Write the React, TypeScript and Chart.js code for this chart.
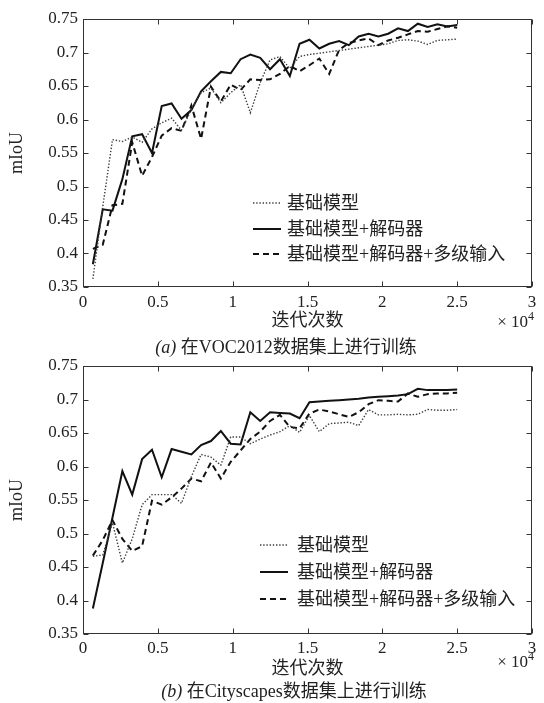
import React, { useEffect, useRef } from 'react';
import { Chart, registerables } from 'chart.js';

Chart.register(...registerables);

// ---- data ----
const iterations = [
  0.066, 0.132, 0.197, 0.263, 0.329, 0.395, 0.461, 0.526, 0.592, 0.658,
  0.724, 0.789, 0.855, 0.921, 0.987, 1.053, 1.118, 1.184, 1.25, 1.316,
  1.382, 1.447, 1.513, 1.579, 1.645, 1.711, 1.776, 1.842, 1.908, 1.974,
  2.039, 2.105, 2.171, 2.237, 2.303, 2.368, 2.434, 2.5,
];

const seriesNames = ['基础模型', '基础模型+解码器', '基础模型+解码器+多级输入'];

const vocBase = [
  0.362, 0.47, 0.57, 0.567, 0.574, 0.566, 0.586, 0.595, 0.602, 0.584,
  0.615, 0.64, 0.647, 0.625, 0.64, 0.652, 0.61, 0.655, 0.689, 0.694,
  0.676, 0.694, 0.697, 0.699, 0.701, 0.703, 0.705, 0.707, 0.709, 0.711,
  0.713, 0.718, 0.719, 0.717, 0.712, 0.718, 0.719, 0.72,
];
const vocDecoder = [
  0.384, 0.466, 0.464, 0.511, 0.575, 0.578, 0.55, 0.62, 0.624, 0.601,
  0.614, 0.642, 0.657, 0.671, 0.669, 0.69, 0.697, 0.692, 0.675, 0.69,
  0.665, 0.713, 0.719, 0.706, 0.713, 0.717, 0.711, 0.724, 0.728, 0.724,
  0.728, 0.736, 0.732, 0.743, 0.738, 0.742, 0.739, 0.741,
];
const vocMulti = [
  0.407, 0.413, 0.472, 0.474, 0.566, 0.516, 0.544, 0.576, 0.587, 0.583,
  0.621, 0.571, 0.649, 0.627, 0.652, 0.644, 0.66, 0.659, 0.66, 0.668,
  0.68, 0.672, 0.681, 0.691, 0.668, 0.704, 0.714, 0.718, 0.721, 0.711,
  0.718, 0.722, 0.727, 0.732, 0.731, 0.735, 0.739, 0.737,
];

const cityBase = [
  0.466, 0.468, 0.516, 0.456, 0.492, 0.543, 0.558, 0.558, 0.558, 0.545,
  0.585, 0.618, 0.614, 0.602, 0.644, 0.644, 0.634, 0.641, 0.647, 0.652,
  0.661, 0.651, 0.676, 0.652, 0.664, 0.665, 0.666, 0.661, 0.685, 0.677,
  0.677, 0.678, 0.677, 0.678, 0.685, 0.684, 0.684, 0.685,
];
const cityDecoder = [
  0.388, 0.456, 0.524, 0.593, 0.558, 0.611, 0.625, 0.584, 0.626, 0.622,
  0.618, 0.632, 0.638, 0.653, 0.634, 0.633, 0.681, 0.668, 0.681, 0.68,
  0.679, 0.672, 0.696, 0.697, 0.698, 0.699, 0.7, 0.701, 0.703, 0.704,
  0.705, 0.706, 0.708, 0.716, 0.714, 0.714, 0.714, 0.715,
];
const cityMulti = [
  0.467, 0.49, 0.52, 0.492, 0.474, 0.481, 0.549, 0.543, 0.554, 0.567,
  0.582, 0.578, 0.606, 0.582, 0.607, 0.624, 0.641, 0.652, 0.668, 0.677,
  0.659, 0.657, 0.679, 0.685, 0.682, 0.678, 0.674, 0.681, 0.693, 0.699,
  0.698, 0.697, 0.709, 0.704, 0.708, 0.709, 0.709, 0.71,
];

const xTickValues = [0, 0.5, 1, 1.5, 2, 2.5, 3];
const xTickLabels = ['0', '0.5', '1', '1.5', '2', '2.5', '3'];
const yTickValues = [0.35, 0.4, 0.45, 0.5, 0.55, 0.6, 0.65, 0.7, 0.75];
const yTickLabels = ['0.35', '0.4', '0.45', '0.5', '0.55', '0.6', '0.65', '0.7', '0.75'];

const xTitle = '迭代次数';
const yTitle = 'mIoU';
const xScaleNote = '× 10';
const xScaleExp = '4';
const captionA = { tag: '(a)', text: ' 在VOC2012数据集上进行训练' };
const captionB = { tag: '(b)', text: ' 在Cityscapes数据集上进行训练' };

// ---- styling ----
const FONT = '"Liberation Serif", "Noto Sans CJK SC", serif';
const TEXT = '#222';
const W = 544;

const lineStyles = [
  { color: '#3c3c3c', width: 1.4, dash: [1.4, 1.8] },
  { color: '#111', width: 2, dash: [] as number[] },
  { color: '#111', width: 2, dash: [6, 4] },
];

type Layout = {
  top: number;
  height: number;
  plotTop: number;
  plotBottom: number;
  legendLineX: [number, number];
  legendTextX: number;
  legendRows: number[];
  xTitleY: number;
  noteY: number;
  captionY: number;
  captionCenter: number;
  tickPad: number;
};

function ChartPanel({ series, caption, layout }: { series: number[][]; caption: { tag: string; text: string }; layout: Layout }) {
  const ref = useRef<HTMLCanvasElement | null>(null);

  useEffect(() => {
    const canvas = ref.current;
    if (!canvas) return;
    const L = layout;

    const decor = {
      id: 'decor',
      afterDatasetsDraw(chart: any) {
        const c = chart.ctx as CanvasRenderingContext2D;
        const a = chart.chartArea;
        const xs = chart.scales.x;
        const ys = chart.scales.y;
        c.save();
        // box
        c.strokeStyle = '#333';
        c.lineWidth = 1;
        c.setLineDash([]);
        const l = Math.round(a.left) + 0.5, r = Math.round(a.right) - 0.5;
        const t = Math.round(a.top) + 0.5, b = Math.round(a.bottom) - 0.5;
        c.strokeRect(l, t, r - l, b - t);
        // inward ticks
        c.beginPath();
        xTickValues.forEach((v) => {
          const px = Math.round(xs.getPixelForValue(v)) + 0.5;
          c.moveTo(px, b); c.lineTo(px, b - 5);
          c.moveTo(px, t); c.lineTo(px, t + 5);
        });
        yTickValues.forEach((v) => {
          const py = Math.round(ys.getPixelForValue(v)) + 0.5;
          c.moveTo(l, py); c.lineTo(l + 5, py);
          c.moveTo(r, py); c.lineTo(r - 5, py);
        });
        c.stroke();

        // legend
        c.font = `18px ${FONT}`;
        c.textBaseline = 'middle';
        c.textAlign = 'left';
        seriesNames.forEach((name, i) => {
          const st = lineStyles[i];
          const y = L.legendRows[i];
          c.strokeStyle = st.color;
          c.lineWidth = st.width;
          c.setLineDash(st.dash);
          c.beginPath();
          c.moveTo(L.legendLineX[0], y);
          c.lineTo(L.legendLineX[1], y);
          c.stroke();
          c.setLineDash([]);
          c.fillStyle = TEXT;
          c.fillText(name, L.legendTextX, y + 1);
        });

        // y title
        c.fillStyle = TEXT;
        c.save();
        c.translate(17, (a.top + a.bottom) / 2);
        c.rotate(-Math.PI / 2);
        c.textAlign = 'center';
        c.textBaseline = 'middle';
        c.font = `18px ${FONT}`;
        c.fillText(yTitle, 0, 0);
        c.restore();

        // x title
        c.textAlign = 'center';
        c.textBaseline = 'middle';
        c.font = `18px ${FONT}`;
        c.fillText(xTitle, (a.left + a.right) / 2, L.xTitleY);

        // x10^4
        c.textAlign = 'right';
        c.font = `12px ${FONT}`;
        const expW = c.measureText(xScaleExp).width;
        c.fillText(xScaleExp, W - 10, L.noteY - 6);
        c.font = `17px ${FONT}`;
        c.fillText(xScaleNote, W - 10 - expW, L.noteY);

        // caption
        c.textAlign = 'left';
        c.font = `italic 18px ${FONT}`;
        const tagW = c.measureText(caption.tag).width;
        c.font = `18px ${FONT}`;
        const txtW = c.measureText(caption.text).width;
        const x0 = L.captionCenter - (tagW + txtW) / 2;
        c.font = `italic 18px ${FONT}`;
        c.fillText(caption.tag, x0, L.captionY);
        c.font = `18px ${FONT}`;
        c.fillText(caption.text, x0 + tagW, L.captionY);
        c.restore();
      },
    };

    const chart = new Chart(canvas, {
      type: 'line',
      data: {
        datasets: series.map((vals, i) => ({
          label: seriesNames[i],
          data: vals.map((v, k) => ({ x: iterations[k], y: v })),
          borderColor: lineStyles[i].color,
          borderWidth: lineStyles[i].width,
          borderDash: lineStyles[i].dash,
          pointRadius: 0,
          fill: false,
          tension: 0,
        })),
      },
      options: {
        animation: false,
        responsive: false,
        devicePixelRatio: 1,
        layout: { padding: { left: 0, right: 12, top: L.plotTop, bottom: 0 } },
        plugins: { legend: { display: false }, tooltip: { enabled: false }, title: { display: false } },
        scales: {
          x: {
            type: 'linear',
            min: 0,
            max: 3,
            grid: { display: false, drawTicks: false },
            border: { display: false },
            afterBuildTicks: (s: any) => { s.ticks = xTickValues.map((v) => ({ value: v })); },
            afterFit: (s: any) => { s.height = L.height - L.plotBottom; },
            ticks: {
              padding: L.tickPad,
              maxRotation: 0,
              color: TEXT,
              font: { family: FONT, size: 17 },
              callback: (_v: any, i: number) => xTickLabels[i],
            },
          },
          y: {
            type: 'linear',
            min: 0.35,
            max: 0.75,
            grid: { display: false, drawTicks: false },
            border: { display: false },
            afterBuildTicks: (s: any) => { s.ticks = yTickValues.map((v) => ({ value: v })); },
            afterFit: (s: any) => { s.width = 83; },
            ticks: {
              padding: 5,
              color: TEXT,
              font: { family: FONT, size: 17 },
              callback: (_v: any, i: number) => yTickLabels[i],
            },
          },
        },
      },
      plugins: [decor],
    } as any);

    return () => chart.destroy();
  }, []);

  return (
    <canvas
      ref={ref}
      width={W}
      height={layout.height}
      style={{ position: 'absolute', left: 0, top: layout.top, display: 'block', width: W, height: layout.height }}
    />
  );
}

const topLayout: Layout = {
  top: 0,
  height: 362,
  plotTop: 19,
  plotBottom: 287,
  legendLineX: [253, 281],
  legendTextX: 287,
  legendRows: [203, 229, 254],
  xTitleY: 321,
  noteY: 323,
  captionY: 348,
  captionCenter: 286,
  tickPad: 5,
};

const bottomLayout: Layout = {
  top: 340,
  height: 363,
  plotTop: 26,
  plotBottom: 294,
  legendLineX: [260, 288],
  legendTextX: 297,
  legendRows: [205, 232, 259],
  xTitleY: 329,
  noteY: 323,
  captionY: 352,
  captionCenter: 294,
  tickPad: 4,
};

export default function App() {
  return (
    <div style={{ position: 'absolute', left: 0, top: 0, width: W, height: 703, background: '#fff', overflow: 'hidden' }}>
      <ChartPanel series={[vocBase, vocDecoder, vocMulti]} caption={captionA} layout={topLayout} />
      <ChartPanel series={[cityBase, cityDecoder, cityMulti]} caption={captionB} layout={bottomLayout} />
    </div>
  );
}
